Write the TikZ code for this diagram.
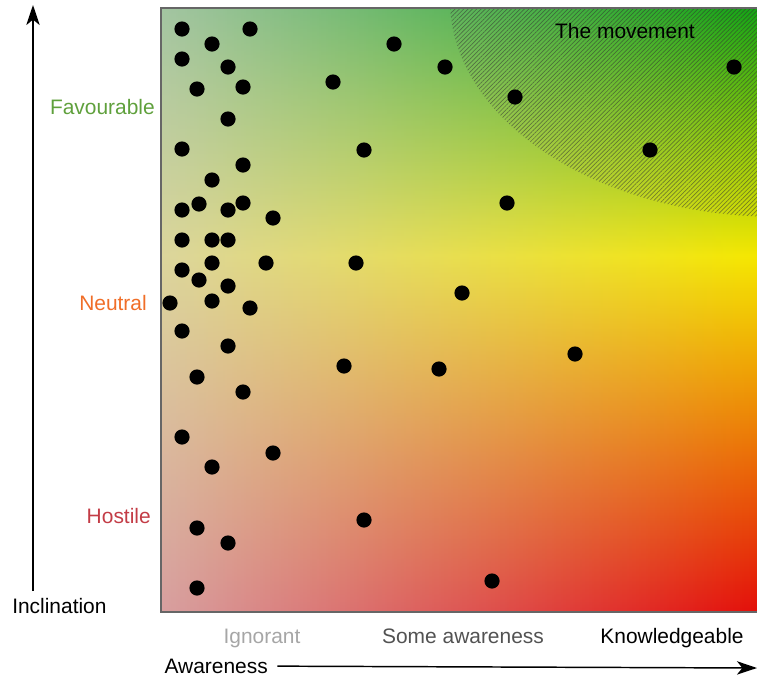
\documentclass[tikz,border=0pt]{standalone}
\usepackage{fontspec}
\setmainfont{Liberation Sans}
\usetikzlibrary{arrows.meta, patterns.meta, fadings, positioning}

\definecolor{favgreen}{RGB}{20,165,20}
\definecolor{neutyellow}{RGB}{245,232,0}
\definecolor{hostred}{RGB}{228,15,10}
\definecolor{washgray}{RGB}{212,208,210}
\definecolor{favtext}{RGB}{95,160,60}
\definecolor{neuttext}{RGB}{240,110,40}
\definecolor{hosttext}{RGB}{195,60,70}
\pgfdeclareverticalshading{inclination}{100bp}{color(0bp)=(hostred); color(25bp)=(hostred); color(54.5bp)=(neutyellow); color(75bp)=(favgreen); color(100bp)=(favgreen)}

\begin{document}
\begin{tikzpicture}[x=0.75pt, y=-0.75pt, font=\fontsize{15.7}{18}\selectfont,
    dot/.style={circle, fill=black, inner sep=0pt, minimum size=11.4pt},
    level/.style={anchor=base east, inner sep=0pt},
    axisarrow/.style={-{Stealth[length=15pt, width=10pt, inset=4pt]}, line width=1.1pt}]
    \useasboundingbox (0,0) rectangle (757,679);

    % plot area
    \shade[shading=inclination] (161,8) rectangle (758,612);
    \fill[washgray, fill opacity=0.75, path fading=east] (161,8) rectangle (758,612);
    \begin{scope}[transparency group, opacity=0.55]
        \clip (161,8) rectangle (758,612);
        \fill[pattern={Lines[angle=45, distance=2.3pt, line width=0.5pt]}, pattern color=black!80]
            (780,0) ellipse [x radius=330, y radius=217];
    \end{scope}
    \draw[black!60, line width=1.2pt] (758,8) -- (161,8) -- (161,612) -- (758,612);
    \node[anchor=base, inner sep=0pt] (movement) at (625,38) {The movement};

    % people
    \foreach \x/\y [count=\i] in {182/29, 250/29, 212/44, 182/59, 228/67, 197/89, 243/87,
        228/119, 182/149, 243/165, 212/180, 182/210, 199/204, 228/210, 243/203, 273/218,
        182/240, 212/240, 228/240, 212/263, 266/263, 182/270, 199/280, 228/286, 170/303,
        212/301, 250/308, 182/331, 228/346, 197/377, 243/392, 182/437, 273/453, 212/467,
        197/528, 228/543, 197/588, 394/44, 445/67, 333/82, 515/97, 364/150, 507/203,
        356/263, 462/293, 344/366, 439/369, 575/354, 364/520, 492/581, 734/67, 650/150}
        \node[dot] (p\i) at (\x,\y) {};

    % inclination axis
    \node[level, text=favtext] (favourable) at (155,114) {Favourable};
    \node[level, text=neuttext] (neutral) at (147,310) {Neutral};
    \node[level, text=hosttext] (hostile) at (151,523) {Hostile};
    \node[anchor=base west, inner sep=0pt] (inclination) at (12,613) {Inclination};
    \coordinate (ytail) at (33,591);
    \coordinate (ytip) at (33,5);
    \draw[axisarrow] (ytail) -- (ytip);

    % awareness axis
    \node[anchor=base, inner sep=0pt, text=black!35] (ignorant) at (262,643) {Ignorant};
    \node[anchor=base, inner sep=0pt, text=black!68] (some) at (463,643) {Some awareness};
    \node[anchor=base, inner sep=0pt] (knowledgeable) at (672,643) {Knowledgeable};
    \node[anchor=base west, inner xsep=7pt] (awareness) at (155,673) {Awareness};
    \coordinate (xtip) at (757,668);
    \draw[axisarrow] (awareness) -- (xtip);
\end{tikzpicture}
\end{document}
